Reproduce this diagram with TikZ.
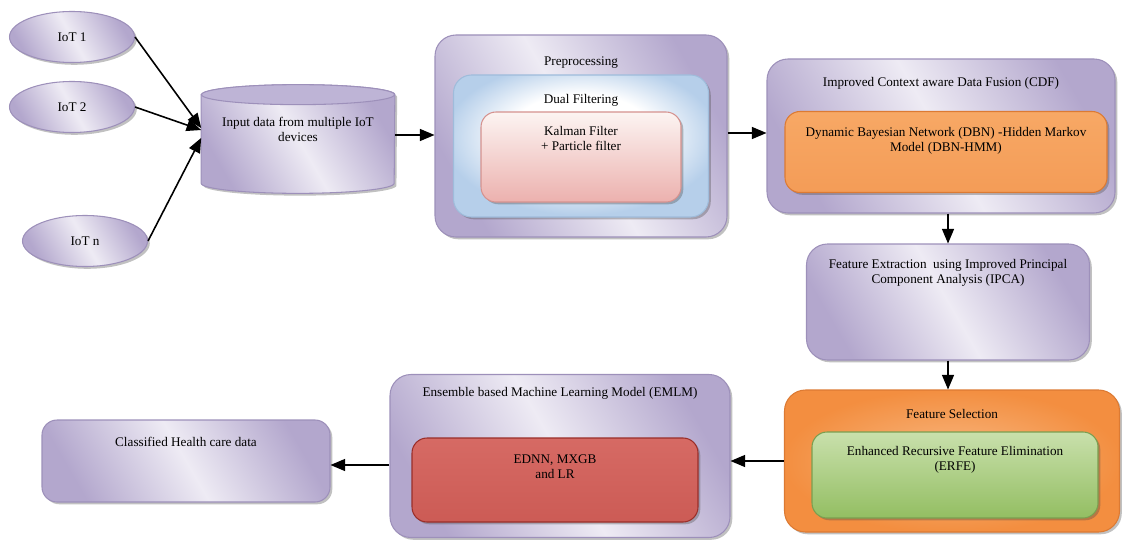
\documentclass[tikz,border=0pt]{standalone}
\usepackage{fontspec}
\setmainfont{Liberation Serif}
\usepackage{tikz}
\usetikzlibrary{arrows, shapes, shadows}
\definecolor{lavDark}{HTML}{B3A7CD}
\definecolor{lavLight}{HTML}{EEEBF4}
\definecolor{lavLine}{HTML}{9D90BA}
\definecolor{lavCap}{HTML}{BEB4D6}
\definecolor{blueEdge}{HTML}{B6CFEA}
\definecolor{blueLine}{HTML}{9FBCDB}
\definecolor{pinkTop}{HTML}{FCF4F2}
\definecolor{pinkBot}{HTML}{ECB1AE}
\definecolor{pinkLine}{HTML}{D5928F}
\definecolor{orgTop}{HTML}{F7A865}
\definecolor{orgMid}{HTML}{F28A3A}
\definecolor{orgBot}{HTML}{F49C57}
\definecolor{orgLine}{HTML}{DC7A33}
\definecolor{grnTop}{HTML}{C9E0AC}
\definecolor{grnBot}{HTML}{93BE62}
\definecolor{grnLine}{HTML}{7A9F50}
\definecolor{redTop}{HTML}{D66A64}
\definecolor{redMid}{HTML}{B8342F}
\definecolor{redBot}{HTML}{CC5B55}
\definecolor{redLine}{HTML}{9A2E29}
\pgfdeclareradialshading{dualglow}{\pgfpoint{0bp}{6bp}}{color(0bp)=(white); color(14bp)=(white); color(27bp)=(blueEdge); color(50bp)=(blueEdge)}
\tikzstyle{arrow} = [->, >=triangle 45, line width=0.9pt]
\tikzstyle{base} = [inner sep=0pt, line width=0.6pt, drop shadow={shadow xshift=1.3pt, shadow yshift=-1.3pt, opacity=0.35, fill=black!70}]
\tikzstyle{lilac} = [base, draw=lavLine, left color=lavDark, right color=lavDark, middle color=lavLight, shading angle=120]
\tikzstyle{cloud} = [lilac, ellipse, minimum width=2.5cm, minimum height=1.02cm]
\tikzstyle{store} = [inner sep=0pt, minimum width=3.86cm, minimum height=2.16cm]
\tikzstyle{panel} = [lilac, rectangle, rounded corners=0.42cm]
\tikzstyle{block} = [base, rectangle, rounded corners=0.3cm]
\tikzstyle{duo} = [block, draw=blueLine, shading=dualglow, rounded corners=0.36cm]
\tikzstyle{blush} = [block, draw=pinkLine, top color=pinkTop, bottom color=pinkBot]
\tikzstyle{amber} = [block, draw=orgLine, top color=orgTop, middle color=orgMid, bottom color=orgBot]
\tikzstyle{amberpanel} = [base, rectangle, rounded corners=0.42cm, draw=orgLine, inner color=orgTop!80!white, outer color=orgMid!85!orgTop]
\tikzstyle{leaf} = [block, draw=grnLine, top color=grnTop, bottom color=grnBot]
\tikzstyle{brick} = [block, draw=redLine, top color=redTop, middle color=redMid, bottom color=redBot]
\tikzset{heading/.style={anchor=north, yshift=-#1, inner sep=0pt, align=center}}

\begin{document}
\begin{tikzpicture}[font=\fontsize{7.5}{8.5}\selectfont]
    \useasboundingbox (0,0) rectangle (22.44,-10.8);

    % sources
    \node [cloud] (iotA) at (1.44,-0.74) {IoT 1};
    \node [cloud, below of=iotA, node distance=1.4cm] (iotB) {IoT 2};
    \node [cloud, below of=iotB, node distance=2.68cm, xshift=0.26cm] (iotN) {IoT n};
    \node [store, right of=iotB, node distance=4.52cm, yshift=-0.64cm] (input) {};
    % drum
    \draw [lilac] ([yshift=-0.2cm]input.north west) -- ([yshift=0.2cm]input.south west)
        arc [start angle=180, end angle=360, x radius=1.93cm, y radius=0.2cm]
        -- ([yshift=-0.2cm]input.north east)
        arc [start angle=0, end angle=180, x radius=1.93cm, y radius=0.2cm] -- cycle;
    \draw [draw=lavLine, line width=0.6pt, fill=lavCap] ([yshift=-0.2cm]input.north) ellipse [x radius=1.93cm, y radius=0.2cm];
    \node [heading=0.64cm] (inputText) at (input.north) {Input data from multiple IoT\\devices};

    % preprocessing
    \node [panel, minimum width=5.84cm, minimum height=4.04cm, right of=input, node distance=5.66cm, yshift=0.06cm,
        label={[heading=0.44cm]north:Preprocessing}] (pre) {};
    \node [duo, minimum width=5.1cm, minimum height=2.84cm, below of=pre, node distance=0.2cm,
        label={[heading=0.4cm]north:Dual Filtering}] (dual) {};
    \node [blush, minimum width=4cm, minimum height=1.8cm, below of=dual, node distance=0.22cm,
        label={[heading=0.3cm]north:Kalman Filter\\+ Particle filter}] (kalman) {};

    % fusion
    \node [panel, minimum width=6.96cm, minimum height=3.08cm, right of=pre, node distance=7.2cm,
        label={[heading=0.38cm]north:Improved Context aware Data Fusion (CDF)}] (cdf) {};
    \node [amber, minimum width=6.44cm, minimum height=1.62cm, below of=cdf, node distance=0.32cm, xshift=0.1cm,
        label={[heading=0.32cm]north:Dynamic Bayesian Network (DBN) -Hidden Markov\\Model (DBN-HMM)}] (dbn) {};

    % features
    \node [panel, minimum width=5.66cm, minimum height=2.32cm, below of=cdf, node distance=3.32cm, xshift=0.14cm,
        label={[heading=0.32cm]north:Feature Extraction\ \ using Improved Principal\\Component Analysis (IPCA)}] (ipca) {};
    \node [amberpanel, minimum width=6.7cm, minimum height=2.84cm, below of=ipca, node distance=3.18cm, xshift=0.08cm,
        label={[heading=0.4cm]north:Feature Selection}] (fs) {};
    \node [leaf, minimum width=5.72cm, minimum height=1.72cm, below of=fs, node distance=0.28cm, xshift=0.06cm,
        label={[heading=0.3cm]north:Enhanced Recursive Feature Elimination\\(ERFE)}] (erfe) {};

    % classification
    \node [panel, minimum width=6.8cm, minimum height=3.26cm, left of=fs, node distance=7.84cm, yshift=0.1cm,
        label={[heading=0.26cm]north:Ensemble based Machine Learning Model (EMLM)}] (emlm) {};
    \node [brick, minimum width=5.72cm, minimum height=1.68cm, below of=emlm, node distance=0.48cm, xshift=-0.1cm,
        label={[heading=0.34cm]north:{EDNN, MXGB\\and LR}}] (ens) {};
    \node [panel, rounded corners=0.3cm, minimum width=5.76cm, minimum height=1.64cm, left of=emlm, node distance=7.48cm, yshift=-0.1cm,
        label={[heading=0.34cm]north:Classified Health care data}] (result) {};

    \draw [arrow] (iotA.east) -- ([yshift=0.22cm]input.west);
    \draw [arrow] (iotB.east) -- ([yshift=0.18cm]input.west);
    \draw [arrow] (iotN.east) -- ([yshift=0.02cm]input.west);
    \draw [arrow] ([yshift=0.08cm]input.east) -- ([yshift=0.08cm]input.east -| pre.west);
    \draw [arrow] ([yshift=0.06cm]pre.east) -- ([yshift=0.06cm]pre.east -| cdf.west);
    \draw [arrow] (ipca.north |- cdf.south) -- (ipca.north);
    \draw [arrow] (ipca.south) -- (ipca.south |- fs.north);
    \draw [arrow] (fs.west) -- (fs.west -| emlm.east);
    \draw [arrow] ([yshift=-0.18cm]emlm.west) -- ([yshift=-0.18cm]emlm.west -| result.east);
\end{tikzpicture}
\end{document}
